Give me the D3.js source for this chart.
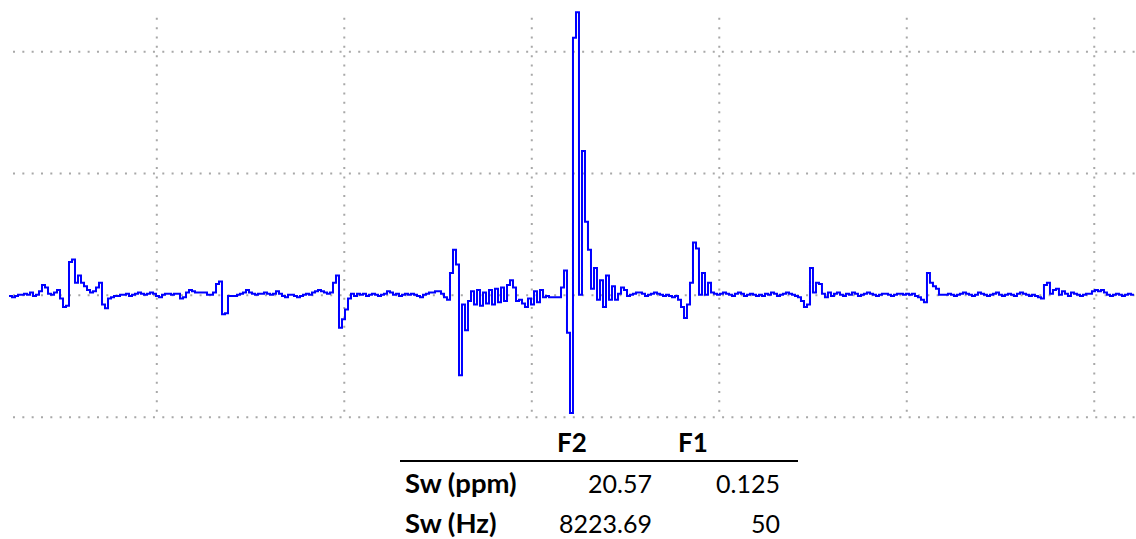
<!DOCTYPE html>
<html>
<head>
<meta charset="utf-8">
<script src="https://cdn.jsdelivr.net/npm/d3@7"></script>
<style>
  html, body { margin: 0; padding: 0; background: #fff; }
  svg { display: block; }
  .grid line { stroke: #a8a8a8; stroke-width: 2; stroke-dasharray: 2 7.33; }
  .grid path { display: none; }
  .grid text { display: none; }
  .tbl text { font-family: Lato, "Open Sans", sans-serif; font-size: 25px; fill: #000; }
  .tbl text.lbl { font-size: 27.5px; }
  .tbl text.hdr { font-size: 26px; }
</style>
</head>
<body>
<script>
// Spectrum trace: intensity sampled on a uniform shift axis
const shiftStart = 0.2144;   // first sample position
const shiftStep = 0.016;     // spacing between samples
const intensity = [
  // 0.21 – 1.0
  -1, -2, -1, 0, 0, 1, 0, 2, -1, 0,
  3, 8, 6, 1, 0, 2, 4, -3, -10, -9,
  27, 29, 10, 16, 10, 7, 4, 2, 3, 6, 10, -8, -11, -3, -2,
  -1, -1, 0, 0, 1, -1, 0, 1, 2, 1, 0, 1, 2, 1, -1, -2, 0, 1, 1, 0, 1, 1,
  -3, -2, 2, 4, 3, 2, 2, 2, 2, 0, 0,
  2, 9, 11, -16, -15, -1,
  // 1.0 – 2.0
  -1, -1, 0, 1, 2, 4, 2, 1, 0, 1, 1, 2, 1, 0, 1, 3, 1, -1, -2, 0,
  0, -1, -2, -1, 0, 1, 0, 2, 3, 4, 3, 2, 1,
  2, 10, 16, -27, -20, -12, -3, 1, -1, 1,
  0, 1, -1, 0, 1, 0, -1,
  // 2.0 – 3.0
  0, 1, 3, 2, 0, 1, -1, 0, 1, 0, 1, 0, -1, -2, 0, 1, 2, 2, 3, 3, 1, -2, -4,
  18, 37, 25, -66, -8, -29, -5,
  3, -8, 4, -9, 2, -7, 4, -8, 5, -6, 6, -5, 8, 12, 6,
  -5, -4, -7, -10, -3, -8, 3, -6, 4, -2, -1, -2, -2, -2, -2,
  // central resonance
  6, 20, -31, -97, 211, 232, 0, 118, 60,
  37, 5, 22, -4, 12, -10, 16, -4, 7, -4, 1, 6, 4, -1, 0,
  // 3.3 – 4.0
  1, 2, 2, 1, -1, 0, 1, 2, 1, 0, -1, 0, -1, -2, -1,
  -4, -10, -19, -8, 10, 43, 38, 0, 18, 0, 10, 2, 1,
  0, 1, 2, 1, 0, -1, 1, 2, 1, -1, 0, 1, 0, -1,
  // 4.0 – 5.0
  0, -1, 1, 0, 2, 1, -1, 0, 1, 2, 1, 0, -1, -2, -5, -10, -8, 22, 2, 10, 9, 1, -2,
  2, -1, 1, 2, 0, -1, 1, 0, 2, 1, -1, 0, 1, 2, 1, 0, -1, 0, 1, 1, 0, -1, 0, 1,
  1, 0, 1, 0, 1, -1, -2, -4, -6, 18, 10, 7, 5, 0, 0, 0,
  // 5.0 – 6.2
  1, 0, -1, 0, 1, 2, 1, 0, -1, 0, 2, 1, 0, -1, 0, 1, 2, 0, -1, 0,
  1, 0, -1, 1, 2, 1, 0, -1, 0, -1,
  -2, -3, 8, 10, 1, 4, 5, 0, 3, 1, -1, 2,
  1, 0, -1, 0, 1, 1, 3, 4, 3, 4, 2, 0, -1, 0, 1, 0, -1, 0, 1, 0, 0
];

// Grid positions
const gridShift = [1, 2, 3, 4, 5, 6];
const gridIntensity = [-100, 0, 100, 200];

// Sweep-width table
const tableColumns = ["F2", "F1"];
const tableRows = ["Sw (ppm)", "Sw (Hz)"];
const f2Values = ["20.57", "8223.69"];
const f1Values = ["0.125", "50"];

const W = 1136, H = 539;
const plot = { left: 9, right: 1136, top: 11, bottom: 416.7 };

const svg = d3.select("body").append("svg")
  .attr("width", W).attr("height", H);

const x = d3.scaleLinear()
  .domain([shiftStart, 6.2253])
  .range([plot.left, plot.right]);
const y = d3.scaleLinear()
  .domain([-100, 233])
  .range([plot.bottom, plot.top]);

// Dotted grid
svg.append("g")
  .attr("class", "grid gx")
  .attr("transform", `translate(0,${plot.bottom})`)
  .call(d3.axisBottom(x).tickValues(gridShift)
    .tickSize(-(plot.bottom - plot.top)).tickFormat(() => ""))
  .selectAll("line").style("stroke-dashoffset", 4.33);

svg.append("g")
  .attr("class", "grid gy")
  .attr("transform", `translate(${plot.left},0)`)
  .call(d3.axisLeft(y).tickValues(gridIntensity)
    .tickSize(-(plot.right - plot.left)).tickFormat(() => ""))
  .selectAll("line").style("stroke-dashoffset", 5.33);

// Trace
const pts = intensity.map((v, i) => [shiftStart + i * shiftStep, v]);
const line = d3.line()
  .x(d => x(d[0]))
  .y(d => y(d[1]))
  .curve(d3.curveStepAfter);

svg.append("path")
  .datum(pts)
  .attr("d", line)
  .attr("fill", "none")
  .attr("stroke", "#0000ff")
  .attr("stroke-width", 2)
  .attr("stroke-linejoin", "miter");

// Table
const tbl = svg.append("g").attr("class", "tbl");
const headerX = [557, 678];
tbl.selectAll("text.hdr").data(tableColumns).join("text")
  .attr("class", "hdr")
  .attr("x", (d, i) => headerX[i]).attr("y", 452)
  .attr("font-weight", "bold")
  .text(d => d);

tbl.append("line")
  .attr("x1", 400).attr("x2", 798)
  .attr("y1", 461).attr("y2", 461)
  .attr("stroke", "#000").attr("stroke-width", 2);

const rowY = [493, 533];
tbl.selectAll("text.lbl").data(tableRows).join("text")
  .attr("class", "lbl")
  .attr("x", 405).attr("y", (d, i) => rowY[i])
  .attr("font-weight", "bold")
  .text(d => d);

tbl.selectAll("text.f2").data(f2Values).join("text")
  .attr("class", "f2")
  .attr("x", 652).attr("y", (d, i) => rowY[i])
  .attr("text-anchor", "end")
  .text(d => d);

tbl.selectAll("text.f1").data(f1Values).join("text")
  .attr("class", "f1")
  .attr("x", 780).attr("y", (d, i) => rowY[i])
  .attr("text-anchor", "end")
  .text(d => d);
</script>
</body>
</html>
